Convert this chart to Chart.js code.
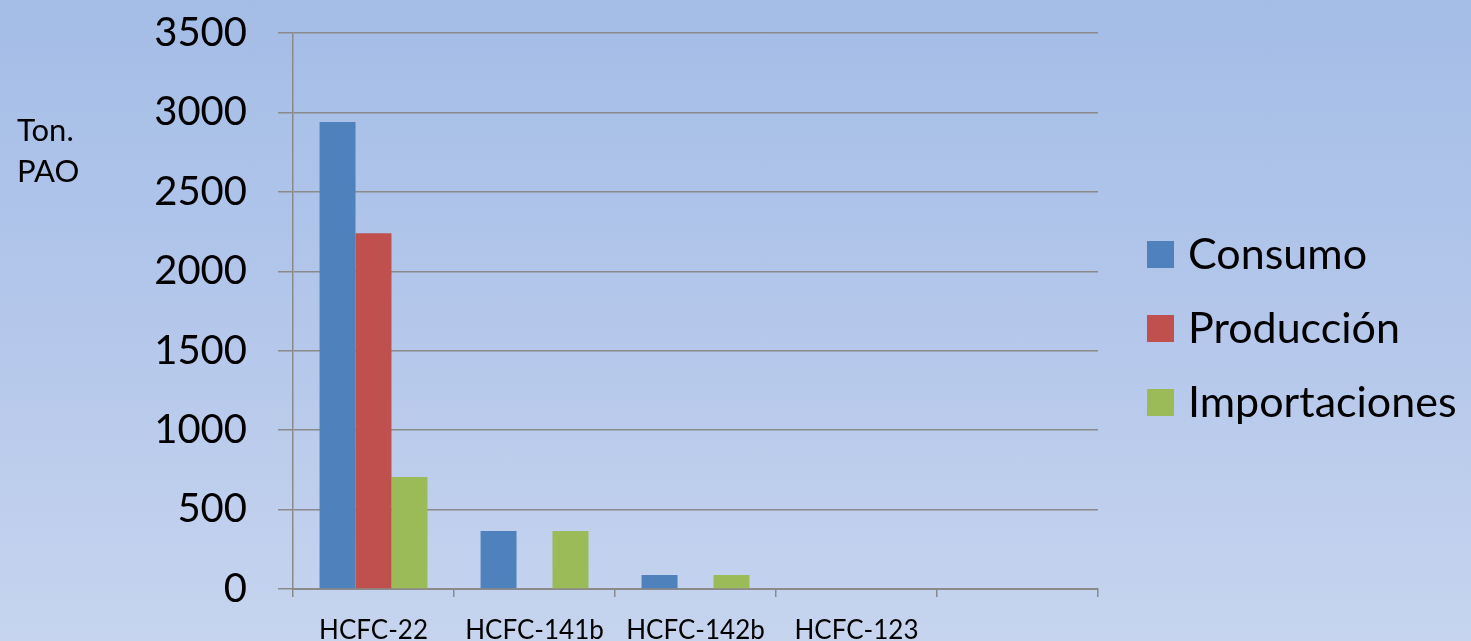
<!DOCTYPE html>
<html>
<head>
<meta charset="utf-8">
<script src="https://cdn.jsdelivr.net/npm/chart.js@4.4.1/dist/chart.umd.min.js"></script>
<style>
  html, body { margin: 0; padding: 0; }
  body {
    width: 1471px; height: 641px; overflow: hidden;
    background: linear-gradient(to bottom, #a4bde6 0%, #b4c7eb 50%, #c6d4ee 100%);
  }
  canvas { display: block; }
</style>
</head>
<body>
<canvas id="chart" width="1471" height="641"></canvas>
<script>
const categories = ["HCFC-22", "HCFC-141b", "HCFC-142b", "HCFC-123", ""];
const consumo = [2940, 365, 88, 0, null];
const produccion = [2240, 0, 0, 0, null];
const importaciones = [705, 365, 88, 0, null];
const yTitle = ["Ton.", "PAO"];

const FONT = "Lato, 'Noto Sans', sans-serif";
const GRID = "#8a8a8a";

// legend drawn at the right, like the office chart
const sideLegend = {
  id: "sideLegend",
  afterDraw(chart) {
    const ctx = chart.ctx;
    ctx.save();
    ctx.font = "43px " + FONT;
    ctx.textBaseline = "middle";
    chart.data.datasets.forEach((ds, i) => {
      const cy = 254 + i * 74;
      ctx.fillStyle = ds.backgroundColor;
      ctx.fillRect(1147, cy - 13, 27, 27);
      ctx.fillStyle = "#000";
      ctx.fillText(ds.label, 1188, cy + 1);
    });
    // axis title, horizontal, two lines
    ctx.font = "31px " + FONT;
    ctx.textBaseline = "alphabetic";
    ctx.fillStyle = "#000";
    yTitle.forEach((t, i) => ctx.fillText(t, 17, 141 + i * 41));
    ctx.restore();
  }
};

function draw() {
  new Chart(document.getElementById("chart"), {
    type: "bar",
    data: {
      labels: categories,
      datasets: [
        { label: "Consumo", data: consumo, backgroundColor: "#4f81bd" },
        { label: "Producción", data: produccion, backgroundColor: "#c0504d" },
        { label: "Importaciones", data: importaciones, backgroundColor: "#9bbb59" }
      ]
    },
    options: {
      responsive: false,
      animation: false,
      devicePixelRatio: 1,
      layout: { padding: { top: 33, right: 373, bottom: 0, left: 0 } },
      datasets: { bar: { barPercentage: 1, categoryPercentage: 0.67 } },
      plugins: {
        legend: { display: false },
        tooltip: { enabled: false }
      },
      scales: {
        x: {
          afterFit: s => { s.height = 52; },
          grid: { drawOnChartArea: false, offset: true, tickLength: 8, color: GRID, lineWidth: 1.5 },
          border: { color: GRID, width: 2 },
          ticks: { color: "#000", font: { family: FONT, size: 26 }, padding: 18, maxRotation: 0, autoSkip: false }
        },
        y: {
          min: 0, max: 3500,
          afterFit: s => { s.width = 293; s.paddingTop = 0; s.paddingBottom = 0; },
          grid: { color: GRID, lineWidth: 1.5, tickLength: 15 },
          border: { color: GRID, width: 1.5 },
          ticks: {
            stepSize: 500, color: "#000", font: { family: FONT, size: 40 }, padding: 31,
            callback: v => String(v)
          }
        }
      }
    },
    plugins: [sideLegend]
  });
}

document.fonts.load("40px Lato").then(draw, draw);
</script>
</body>
</html>
